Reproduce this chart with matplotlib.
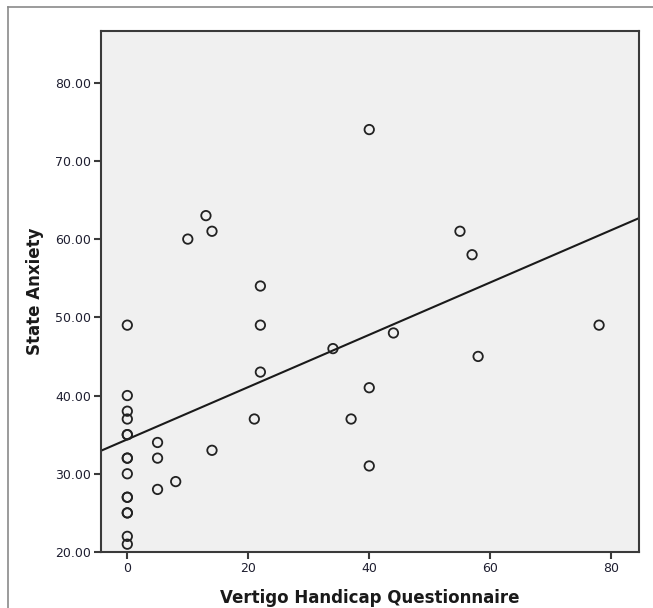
import numpy as np
import matplotlib
matplotlib.use("Agg")
import matplotlib.pyplot as plt
from matplotlib.lines import Line2D
from matplotlib.ticker import FormatStrFormatter

# Vertigo Handicap Questionnaire score vs State Anxiety
vhq = [0, 0, 0, 0, 0, 0, 0, 0, 0, 0, 0, 0, 0, 0, 0,
       5, 5, 5, 8, 10, 13, 14, 14, 21, 22, 22, 22,
       34, 37, 40, 40, 40, 44, 55, 57, 58, 78]
anxiety = [49, 40, 38, 37, 35, 35, 32, 32, 30, 27, 27, 25, 25, 22, 21,
           34, 32, 28, 29, 60, 63, 61, 33, 37, 54, 49, 43,
           46, 37, 74, 41, 31, 48, 61, 58, 45, 49]

x_ticks = [0, 20, 40, 60, 80]
y_ticks = [20, 30, 40, 50, 60, 70, 80]

W, H = 653, 608
fig = plt.figure(figsize=(W / 100, H / 100), dpi=100)
fig.patch.set_facecolor("white")

# outer frame (left and top edges visible)
fig.add_artist(Line2D([8 / W, 8 / W], [0, 1 - 7 / H], transform=fig.transFigure,
                      color="#8a8a8a", lw=1.2))
fig.add_artist(Line2D([8 / W, 1], [1 - 7 / H, 1 - 7 / H], transform=fig.transFigure,
                      color="#8a8a8a", lw=1.2))

ax = fig.add_axes([101 / W, 1 - 552 / H, (639 - 101) / W, (552 - 31) / H])
ax.set_facecolor("#f0f0f0")

xlim = (-4.35, 84.6)
ylim = (20, 86.6)

# regression line
slope, icept = np.polyfit(vhq, anxiety, 1)
xs = np.array(xlim)
ax.plot(xs, icept + slope * xs, color="#1a1a1a", lw=1.5, zorder=2)

ax.scatter(vhq, anxiety, s=46, facecolors="none", edgecolors="#222222",
           linewidths=1.3, zorder=3)

ax.set_xlim(*xlim)
ax.set_ylim(*ylim)
ax.set_xticks(x_ticks)
ax.set_yticks(y_ticks)
ax.yaxis.set_major_formatter(FormatStrFormatter("%.2f"))

for s in ax.spines.values():
    s.set_color("#3a3a3a")
    s.set_linewidth(1.5)
ax.tick_params(direction="out", length=5, width=1.5, color="#3a3a3a",
               labelsize=9, labelcolor="#1e1e30", pad=2)

ax.set_xlabel("Vertigo Handicap Questionnaire", fontsize=12, fontweight="bold",
              color="#1a1a1a", labelpad=10)
ax.set_ylabel("State Anxiety", fontsize=12, fontweight="bold",
              color="#1a1a1a", labelpad=8)

fig.savefig("out.png", dpi=100)
